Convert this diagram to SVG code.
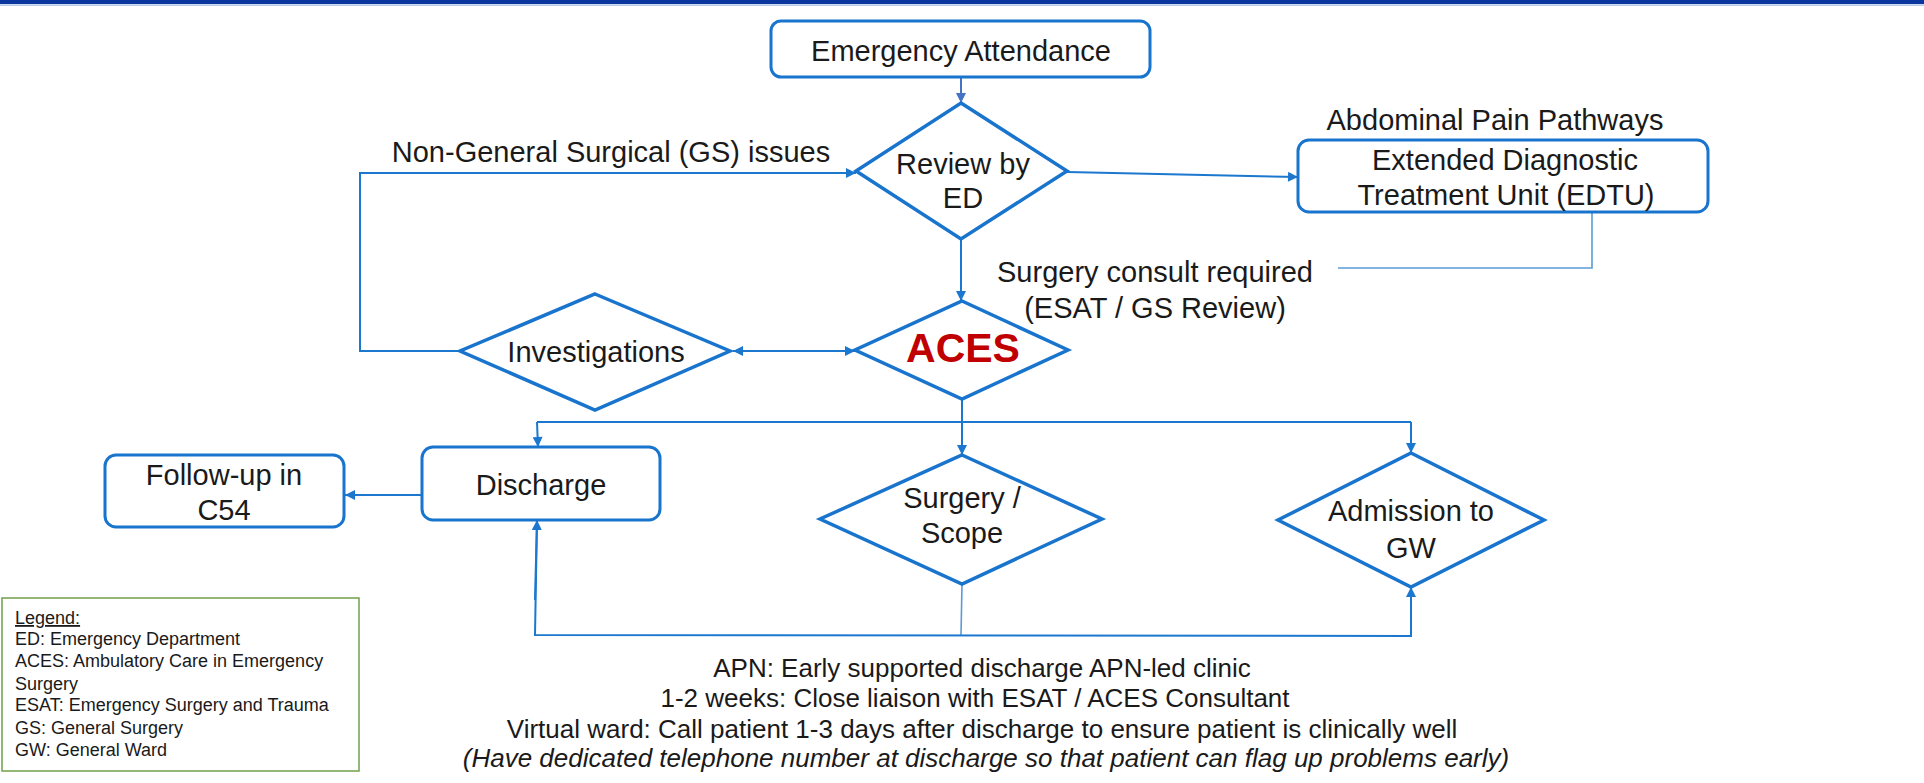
<svg xmlns="http://www.w3.org/2000/svg" width="1924" height="783" viewBox="0 0 1924 783">
<defs>
<style>
.box{fill:#fff;stroke:#1874CD;stroke-width:3}
.dia{fill:#fff;stroke:#1874CD;stroke-width:3.5;stroke-linejoin:miter}
.t{font-family:"Liberation Sans",Arial,sans-serif;font-size:29px;fill:#1a1a1a;text-anchor:middle}
.b{font-family:"Liberation Sans",Arial,sans-serif;font-size:26px;fill:#1a1a1a;text-anchor:middle}
.lg{font-family:"Liberation Sans",Arial,sans-serif;font-size:18px;fill:#1a1a1a}
.c{fill:none;stroke:#1B78CE;stroke-width:2}
.cl{fill:none;stroke:#5B9BD5;stroke-width:1.6}
</style>
<marker id="ah" viewBox="0 0 10 10" refX="10" refY="5" markerWidth="11" markerHeight="10" markerUnits="userSpaceOnUse" orient="auto">
<path d="M0,0 L10,5 L0,10 z" fill="#1B78CE"/>
</marker>
<marker id="ahs" viewBox="0 0 10 10" refX="0" refY="5" markerWidth="11" markerHeight="10" markerUnits="userSpaceOnUse" orient="auto">
<path d="M10,0 L0,5 L10,10 z" fill="#1B78CE"/>
</marker>
<marker id="ah2" viewBox="0 0 10 10" refX="10" refY="5" markerWidth="11" markerHeight="10" markerUnits="userSpaceOnUse" orient="auto">
<path d="M0,0 L10,5 L0,10 z" fill="#4472C4"/>
</marker>
</defs>
<rect x="0" y="0" width="1924" height="783" fill="#fff"/>
<rect x="0" y="0" width="1924" height="4" fill="#0A36A0"/>
<rect x="0" y="4.5" width="1924" height="1.2" fill="#9DB3E0"/>

<g id="connectors">
<line x1="961" y1="77" x2="961" y2="103" stroke="#4472C4" stroke-width="2" marker-end="url(#ah2)"/>
<polyline class="c" points="460,351 360,351 360,173 856,173" marker-end="url(#ah)"/>
<line class="c" x1="1067" y1="172" x2="1298" y2="177" marker-end="url(#ah)"/>
<polyline class="cl" points="1592,212 1592,268 1338,268"/>
<line class="c" x1="961" y1="239" x2="961" y2="301" marker-end="url(#ah)"/>
<line class="c" x1="733" y1="351" x2="855" y2="351" marker-start="url(#ahs)" marker-end="url(#ah)"/>
<line class="c" x1="962" y1="399" x2="962" y2="455" marker-end="url(#ah)"/>
<line class="c" x1="537" y1="422" x2="1411" y2="422"/>
<line class="c" x1="537" y1="422" x2="538" y2="447" marker-end="url(#ah)"/>
<line class="c" x1="1411" y1="422" x2="1411" y2="453" marker-end="url(#ah)"/>
<line class="c" x1="421" y1="495" x2="345" y2="495" marker-end="url(#ah)"/>
<line class="cl" x1="962" y1="584" x2="961" y2="635"/>
<polyline class="c" points="537,520 535,635 1411,636 1411,587" marker-end="url(#ah)"/>
<line class="c" x1="535" y1="600" x2="537" y2="520" marker-end="url(#ah)"/>
</g>

<g id="emergency-attendance">
<rect class="box" x="771" y="21" width="379" height="56" rx="10"/>
<text class="t" x="961" y="61">Emergency Attendance</text>
</g>

<g id="review-ed">
<polygon class="dia" points="961,103 1067,171 961,239 856,171"/>
<text class="t" x="963" y="174">Review by</text>
<text class="t" x="963" y="208">ED</text>
</g>

<g id="non-gs-label">
<text class="t" x="611" y="162">Non-General Surgical (GS) issues</text>
</g>

<g id="edtu">
<text class="t" x="1495" y="130">Abdominal Pain Pathways</text>
<rect class="box" x="1298" y="140" width="410" height="72" rx="11"/>
<text class="t" x="1505" y="170">Extended Diagnostic</text>
<text class="t" x="1506" y="205">Treatment Unit (EDTU)</text>
</g>

<g id="surgery-consult-label">
<text class="t" x="1155" y="282">Surgery consult required</text>
<text class="t" x="1155" y="318">(ESAT / GS Review)</text>
</g>

<g id="investigations">
<polygon class="dia" points="595,294 730,351 595,410 460,351"/>
<text class="t" x="596" y="362">Investigations</text>
</g>

<g id="aces">
<polygon class="dia" points="962,301 1068,350 962,399 855,350"/>
<text x="963" y="362" font-family="'Liberation Sans',Arial,sans-serif" font-size="41" font-weight="bold" fill="#C00000" text-anchor="middle">ACES</text>
</g>

<g id="discharge">
<rect class="box" x="422" y="447" width="238" height="73" rx="11"/>
<text class="t" x="541" y="495">Discharge</text>
</g>

<g id="follow-up">
<rect class="box" x="105" y="455" width="239" height="72" rx="11"/>
<text class="t" x="224" y="485">Follow-up in</text>
<text class="t" x="224" y="520">C54</text>
</g>

<g id="surgery-scope">
<polygon class="dia" points="962,455 1102,519 962,584 820,519"/>
<text class="t" x="962" y="508">Surgery /</text>
<text class="t" x="962" y="543">Scope</text>
</g>

<g id="admission">
<polygon class="dia" points="1411,453 1544,520 1411,587 1278,520"/>
<text class="t" x="1411" y="521">Admission to</text>
<text class="t" x="1411" y="558">GW</text>
</g>

<g id="legend">
<rect x="2" y="598" width="357" height="173" fill="#fff" stroke="#70A04A" stroke-width="1.5"/>
<text class="lg" x="15" y="624" text-decoration="underline">Legend:</text>
<text class="lg" x="15" y="645">ED: Emergency Department</text>
<text class="lg" x="15" y="667">ACES: Ambulatory Care in Emergency</text>
<text class="lg" x="15" y="690">Surgery</text>
<text class="lg" x="15" y="711">ESAT: Emergency Surgery and Trauma</text>
<text class="lg" x="15" y="734">GS: General Surgery</text>
<text class="lg" x="15" y="756">GW: General Ward</text>
</g>

<g id="notes">
<text class="b" x="982" y="677">APN: Early supported discharge APN-led clinic</text>
<text class="b" x="975" y="707">1-2 weeks: Close liaison with ESAT / ACES Consultant</text>
<text class="b" x="982" y="738">Virtual ward: Call patient 1-3 days after discharge to ensure patient is clinically well</text>
<text class="b" x="986" y="767" font-style="italic">(Have dedicated telephone number at discharge so that patient can flag up problems early)</text>
</g>
</svg>
